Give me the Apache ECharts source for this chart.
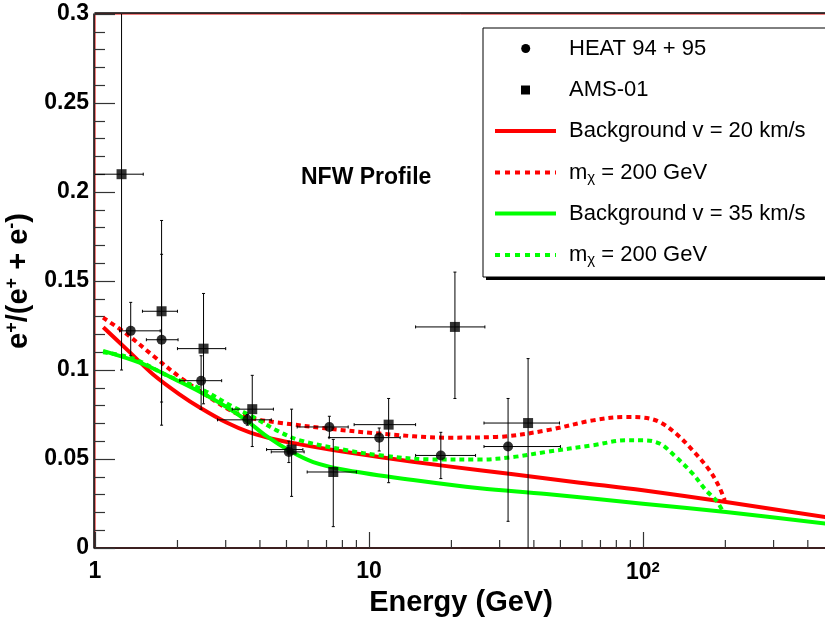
<!DOCTYPE html>
<html>
<head>
<meta charset="utf-8">
<script src="https://cdn.jsdelivr.net/npm/echarts@6/dist/echarts.min.js"></script>
<style>html,body{margin:0;padding:0;background:#fff;}#c{width:825px;height:620px;}</style>
</head>
<body>
<div id="c"></div>
<script>
// ---- data ----
// HEAT 94+95: [E, ratio, Elo, Ehi, ratioLo, ratioHi]
const heat = [
  [1.35, 0.122, 1.23, 1.73, 0.108, 0.138],
  [1.75, 0.117, 1.54, 2.01, 0.069, 0.165],
  [2.44, 0.094, 2.04, 2.90, 0.078, 0.108],
  [3.60, 0.072, 2.80, 4.40, 0.069, 0.075],
  [5.10, 0.054, 4.40, 5.80, 0.048, 0.060],
  [7.17, 0.068, 5.47, 8.40, 0.062, 0.074],
  [10.9, 0.062, 7.15, 13.0, 0.0545, 0.0674],
  [18.3, 0.052, 14.8, 24.5, 0.039, 0.065],
  [32.2, 0.057, 26.3, 50.0, 0.015, 0.084]
];
// AMS-01: [E, ratio, Elo, Ehi, ratioLo, ratioHi]
const ams = [
  [1.25, 0.210, 0.95, 1.50, 0.100, 0.320],
  [1.75, 0.133, 1.49, 2.00, 0.082, 0.184],
  [2.49, 0.112, 2.00, 3.00, 0.081, 0.143],
  [3.75, 0.078, 3.17, 4.48, 0.057, 0.097],
  [5.22, 0.0553, 4.23, 5.74, 0.029, 0.078],
  [7.41, 0.0427, 5.95, 9.00, 0.012, 0.061],
  [11.8, 0.0693, 8.83, 14.8, 0.0367, 0.084],
  [20.6, 0.1242, 14.8, 26.5, 0.084, 0.155],
  [38.1, 0.0702, 26.3, 49.6, -0.01, 0.1064]
];
const bgRed = [
  [1.072,0.124],[1.35,0.1095],[1.63,0.0975],[2.04,0.0862],[2.42,0.0788],[3.02,0.0705],
  [3.67,0.0650],[4.6,0.0608],[5.6,0.0582],[7.2,0.0553],[10.9,0.0511],[19.2,0.046],
  [33.6,0.0414],[58.9,0.0367],[100,0.0324],[201,0.0258],[470,0.0172]
];
const dmRed = [
  [1.07,0.1294],[1.30,0.1204],[1.63,0.108],[2.04,0.096],[2.55,0.0858],[3.2,0.0764],
  [3.78,0.0727],[4.7,0.0704],[7.2,0.067],[10.96,0.0643],[19.2,0.062],[29.3,0.0624],
  [44.5,0.0661],[65.7,0.0717],[86.7,0.0736],[100,0.0733],[115,0.0708],[132,0.0643],
  [152,0.0549],[175,0.0437],[190,0.0343],[199,0.0268]
];
const bgGreen = [
  [1.07,0.1107],[1.38,0.1054],[1.59,0.1017],[1.93,0.0952],[2.42,0.0876],[3.02,0.0792],
  [3.57,0.0717],[4.23,0.0628],[5.15,0.0545],[6.26,0.0483],[8.3,0.0437],
  [14.5,0.0382],[25.4,0.0336],[44.5,0.0304],[100,0.0249],[201,0.0202],[470,0.0136]
];
const dmGreen = [
  [1.07,0.110],[1.38,0.1064],[1.83,0.097],[2.42,0.0896],[3.2,0.0792],[3.78,0.0736],
  [4.6,0.0661],[5.6,0.0605],[8.3,0.0549],[10.96,0.0521],[16.7,0.0498],[25.4,0.0497],
  [33.6,0.0511],[44.5,0.054],[65.7,0.0577],[86.7,0.0605],[100,0.0605],[115,0.0587],
  [132,0.0511],[152,0.0418],[170,0.0324],[185,0.0268],[195,0.0212]
];
const xMinorTicks = [2,3,4,5,6,7,8,9,20,30,40,50,60,70,80,90,200,300,400];
const legendLabels = ['HEAT 94 + 95','AMS-01','Background v = 20 km/s','m{sub|χ} = 200 GeV','Background v = 35 km/s','m{sub|χ} = 200 GeV'];

// ---- chart ----
const FONT = '"Liberation Sans", Arial, Helvetica, sans-serif';
const chart = echarts.init(document.getElementById('c'), null, {renderer:'canvas'});

function errRender(params, api){
  const x=api.value(0), y=api.value(1);
  const pl=api.coord([api.value(2),y]), ph=api.coord([api.value(3),y]);
  const vl=api.coord([x,api.value(4)]), vh=api.coord([x,api.value(5)]);
  const st={stroke:'#000',lineWidth:1};
  const c=3;
  return {type:'group',children:[
    {type:'line',shape:{x1:pl[0],y1:pl[1],x2:ph[0],y2:ph[1]},style:st},
    {type:'line',shape:{x1:pl[0],y1:pl[1]-c/2,x2:pl[0],y2:pl[1]+c/2},style:st},
    {type:'line',shape:{x1:ph[0],y1:ph[1]-c/2,x2:ph[0],y2:ph[1]+c/2},style:st},
    {type:'line',shape:{x1:vl[0],y1:vl[1],x2:vh[0],y2:vh[1]},style:st},
    {type:'line',shape:{x1:vl[0]-c/2,y1:vl[1],x2:vl[0]+c/2,y2:vl[1]},style:st},
    {type:'line',shape:{x1:vh[0]-c/2,y1:vh[1],x2:vh[0]+c/2,y2:vh[1]},style:st}
  ]};
}
function minorTickRender(params, api){
  const p=api.coord([api.value(0),0]);
  return {type:'line',shape:{x1:p[0],y1:p[1],x2:p[0],y2:p[1]-8},style:{stroke:'#333',lineWidth:1.2}};
}

const lineSeries = (name,data,color,dashed)=>({
  name, type:'line', data, symbol:'none', smooth:0.35, z:2, clip:true,
  lineStyle:{color, width:4, type: dashed?[5,4]:'solid', cap:'butt', join:'round'}
});

// legend graphic
const LX=483, LY=28, LW=360, LH=249;
const rowY=[48.5,90,131,172.5,213.5,255];
const legendChildren=[
  {type:'rect',shape:{x:LX+3,y:LY+3,width:LW,height:LH},style:{fill:'#000'}},
  {type:'rect',shape:{x:LX,y:LY,width:LW,height:LH},style:{fill:'#fff',stroke:'#000',lineWidth:1}},
  {type:'circle',shape:{cx:525.7,cy:rowY[0],r:4.5},style:{fill:'#000'}},
  {type:'rect',shape:{x:521,y:rowY[1]-4.5,width:9,height:9},style:{fill:'#000'}},
  {type:'line',shape:{x1:495,y1:rowY[2],x2:556,y2:rowY[2]},style:{stroke:'#ff0000',lineWidth:4}},
  {type:'line',shape:{x1:495,y1:rowY[3],x2:556,y2:rowY[3]},style:{stroke:'#ff0000',lineWidth:4,lineDash:[5,5]}},
  {type:'line',shape:{x1:495,y1:rowY[4],x2:556,y2:rowY[4]},style:{stroke:'#00ff00',lineWidth:4}},
  {type:'line',shape:{x1:495,y1:rowY[5],x2:556,y2:rowY[5]},style:{stroke:'#00ff00',lineWidth:4,lineDash:[5,5]}}
];
legendLabels.forEach((t,i)=>{
  legendChildren.push({type:'text',x:569,y:rowY[i],style:{text:t,fill:'#000',font:'22px '+FONT,
    verticalAlign:'middle',align:'left',
    rich:{sub:{fontSize:15,fontFamily:FONT,verticalAlign:'bottom',padding:[10,0,0,0]}}}});
});

const option = {
  animation:false,
  backgroundColor:'#fff',
  grid:{left:95,right:-2,top:14,bottom:72,outerBoundsMode:'none',containLabel:false,
    show:true,borderColor:'#e00000',borderWidth:1,backgroundColor:'transparent'},
  xAxis:[{
    type:'log', logBase:10, min:1, max:470,
    offset:1,
    axisLine:{show:true,lineStyle:{color:'#000',width:1.5}},
    axisTick:{show:true,inside:true,length:16,lineStyle:{color:'#333',width:1.2}},
    minorTick:{show:false},
    splitLine:{show:false},
    axisLabel:{margin:11,color:'#000',fontFamily:FONT,fontWeight:'bold',fontSize:23,showMaxLabel:false,
      formatter:v=>{const r=Math.round(v); if(r===100) return '10{sup|2}'; if(r===1||r===10) return String(r); return '';},
      rich:{sup:{fontSize:15,fontWeight:'bold',fontFamily:FONT,verticalAlign:'top',padding:[0,0,10,0]}}},
    name:'Energy (GeV)', nameLocation:'middle', nameGap:36,
    nameTextStyle:{color:'#000',fontFamily:FONT,fontWeight:'bold',fontSize:29}
  },{
    type:'log', logBase:10, min:1, max:470, position:'top', offset:1.5,
    axisLine:{show:true,lineStyle:{color:'#000',width:1.5}},
    axisTick:{show:false}, axisLabel:{show:false}, splitLine:{show:false}
  }],
  yAxis:{
    type:'value', min:0, max:0.3, interval:0.05,
    offset:1,
    axisLine:{show:true,lineStyle:{color:'#000',width:1.5}},
    axisTick:{show:true,inside:true,length:21,lineStyle:{color:'#333',width:1.2}},
    minorTick:{show:true,splitNumber:5,length:11,lineStyle:{color:'#333',width:1.2}},
    splitLine:{show:false},
    axisLabel:{margin:5,color:'#000',fontFamily:FONT,fontWeight:'bold',fontSize:23,
      formatter:v=>String(+v.toFixed(2))},
    name:'e{sup|+}/(e{sup|+} + e{sup|-})', nameLocation:'middle', nameGap:38,
    nameTextStyle:{color:'#000',fontFamily:FONT,fontWeight:'bold',fontSize:29,
      rich:{sup:{fontSize:18,fontWeight:'bold',fontFamily:FONT,verticalAlign:'top',padding:[0,0,14,0]}}}
  },
  series:[
    lineSeries('bgRed',bgRed,'#ff0000',false),
    lineSeries('dmRed',dmRed,'#ff0000',true),
    lineSeries('bgGreen',bgGreen,'#00ff00',false),
    lineSeries('dmGreen',dmGreen,'#00ff00',true),
    {type:'custom',name:'heatErr',data:heat,renderItem:errRender,z:3,clip:true},
    {type:'custom',name:'amsErr',data:ams,renderItem:errRender,z:3,clip:true},
    {type:'scatter',name:'HEAT 94 + 95',data:heat.map(d=>[d[0],d[1]]),symbol:'circle',symbolSize:10,itemStyle:{color:'#000'},z:4},
    {type:'scatter',name:'AMS-01',data:ams.map(d=>[d[0],d[1]]),symbol:'rect',symbolSize:10,itemStyle:{color:'#000'},z:4},
    {type:'custom',name:'xMinor',data:xMinorTicks.map(v=>[v]),renderItem:minorTickRender,z:5,clip:false,silent:true}
  ],
  graphic:[
    {type:'text',left:301,top:166,style:{text:'NFW Profile',fill:'#000',font:'bold 23px '+FONT}},
    {type:'group',children:legendChildren,z:100}
  ]
};
chart.setOption(option);
</script>
</body>
</html>
